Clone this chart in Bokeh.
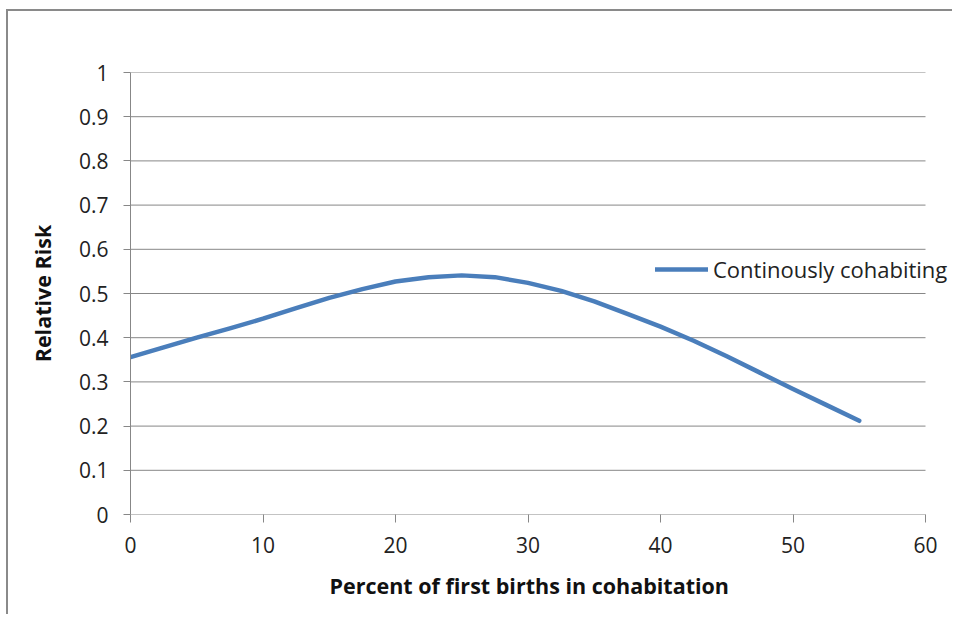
from bokeh.plotting import figure
from bokeh.models import Range1d, FixedTicker, Legend, LegendItem, Title
from bokeh.embed import file_html
from bokeh.resources import INLINE

# Data
pct_first_births = [0, 2.5, 5, 7.5, 10, 12.5, 15, 17.5, 20, 22.5, 25, 27.5,
                    30, 32.5, 35, 37.5, 40, 42.5, 45, 47.5, 50, 52.5, 55]
relative_risk = [0.356, 0.378, 0.400, 0.421, 0.443, 0.467, 0.490, 0.510, 0.527, 0.537, 0.541, 0.537,
                 0.524, 0.506, 0.482, 0.454, 0.425, 0.393, 0.358, 0.321, 0.284, 0.248, 0.212]
series_name = "Continously cohabiting"
x_ticks = [0, 10, 20, 30, 40, 50, 60]
y_ticks = [0, 0.1, 0.2, 0.3, 0.4, 0.5, 0.6, 0.7, 0.8, 0.9, 1.0]
y_tick_labels = ["0", "0.1", "0.2", "0.3", "0.4", "0.5", "0.6", "0.7", "0.8", "0.9", "1"]
x_title = "Percent of first births in cohabitation"
y_title = "Relative Risk"

FONT = "Open Sans"
GRAY = "#878787"

# frame runs to the right edge so the legend text (which overhangs the plot area) is not clipped;
# the x range is widened so that 60 still sits where the plot area ends.
FRAME_W = 824
PLOT_W = 795
x_end = x_ticks[-1] * FRAME_W / PLOT_W

p = figure(width=946, height=605, output_backend="svg", toolbar_location=None,
           x_range=Range1d(x_ticks[0], x_end), y_range=Range1d(y_ticks[0], y_ticks[-1]),
           min_border_left=122, min_border_right=0, min_border_top=61, min_border_bottom=102,
           margin=(9, 0, 0, 6),
           styles={"border-left": "2px solid #8a8a8a", "border-top": "2px solid #8a8a8a"})
p.outline_line_color = None
p.background_fill_color = "white"
p.border_fill_color = "white"

# horizontal gridlines (and the category axis line at 0) across the plot area only
p.segment(x0=[x_ticks[0]] * len(y_ticks), x1=[x_ticks[-1]] * len(y_ticks),
          y0=y_ticks, y1=y_ticks, line_color=GRAY, line_width=1)

r = p.line(pct_first_births, relative_risk, line_color="#4A7EBB", line_width=4.5,
           line_cap="round", line_join="round")

# axes
p.xaxis.ticker = FixedTicker(ticks=x_ticks)
p.yaxis.ticker = FixedTicker(ticks=y_ticks)
p.yaxis.major_label_overrides = {t: l for t, l in zip(y_ticks, y_tick_labels)}
for ax in (p.xaxis[0], p.yaxis[0]):
    ax.axis_line_color = GRAY
    ax.axis_line_width = 1
    ax.major_tick_line_color = GRAY
    ax.minor_tick_line_color = None
    ax.major_tick_in = 0
    ax.major_label_text_font = FONT
    ax.major_label_text_font_size = "21px"
    ax.major_label_text_color = "#222222"
    ax.axis_label_text_font = FONT
    ax.axis_label_text_font_style = "bold"
    ax.axis_label_text_font_size = "21.5px"
    ax.axis_label_text_color = "#111111"
p.xaxis.axis_line_color = None
p.xaxis.major_tick_out = 8
p.yaxis.major_tick_out = 7
p.xaxis.major_label_standoff = 14
p.yaxis.major_label_standoff = 15
p.yaxis.axis_label = y_title
p.yaxis.axis_label_standoff = 19

# x-axis title placed under the middle of the plot area (not the widened frame)
p.add_layout(Title(text=x_title, align="left", offset=199,
                   text_font=FONT, text_font_style="bold", text_font_size="21.5px",
                   text_color="#111111", standoff=27), "below")

p.xgrid.grid_line_color = None
p.ygrid.grid_line_color = None

legend = Legend(items=[LegendItem(label=series_name, renderers=[r])],
                location=(525, 230), padding=0, margin=0, spacing=0,
                glyph_width=53, glyph_height=24, label_standoff=5,
                border_line_color=None, background_fill_alpha=0,
                label_text_font=FONT, label_text_font_size="22px", label_text_color="#222222")
p.add_layout(legend)

open("out.html", "w").write(file_html(p, INLINE))
